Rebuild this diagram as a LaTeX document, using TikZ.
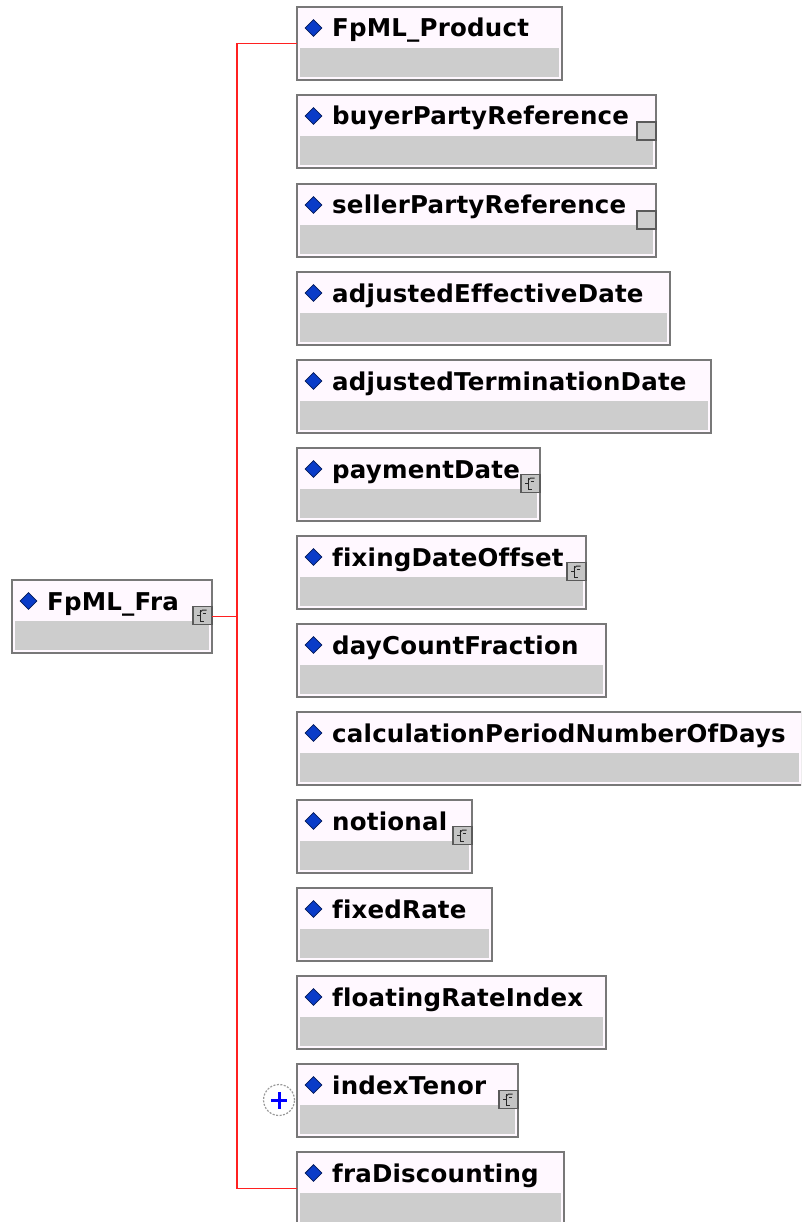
\documentclass[tikz,border=0pt]{standalone}
\usepackage{fontspec}
\newfontfamily\lblfont{DejaVu Sans}[Ligatures={NoCommon}, LetterSpace=0.8]
\usetikzlibrary{shapes.geometric}
\definecolor{boxborder}{HTML}{787878}
\definecolor{boxfill}{HTML}{FFF8FF}
\definecolor{bandgray}{HTML}{CDCDCD}
\definecolor{diablue}{HTML}{0A3CC8}
\definecolor{iconfill}{HTML}{C4C4C4}
\definecolor{iconborder}{HTML}{5A5A5A}
\definecolor{linered}{HTML}{FF2020}
\tikzset{
  x=1pt, y=-1pt,
  elembox/.style={draw=boxborder, fill=boxfill, line width=1.8pt, rectangle, inner sep=0pt, outer sep=0pt, minimum height=73pt, anchor=north west},
  band/.style={fill=bandgray},
  diam/.style={diamond, fill=diablue, draw=diablue!45!black, line width=0.8pt, inner sep=0pt, minimum width=17pt, minimum height=17pt},
  lbl/.style={font=\lblfont\bfseries\fontsize{24.5}{28}\selectfont, inner sep=0pt, anchor=base west, text=black},
  icon/.style={draw=iconborder, fill=iconfill, line width=1.5pt, rectangle, inner sep=0pt, outer sep=0pt, minimum width=19pt, minimum height=18pt},
  glyph/.style={draw=black!85, line width=1pt},
  conn/.style={draw=linered, line width=1.8pt},
  expander/.style={circle, draw=gray!80, dash pattern=on 2pt off 1.5pt, fill=white, minimum size=31pt, inner sep=0pt, line width=1.2pt},
  plussign/.style={draw=blue, line width=3pt},
}
% name, left, top, right, label
\newcommand\elem[5]{%
  \pgfmathsetmacro\elw{#4-#2}%
  \node[elembox, minimum width=\elw pt] (#1) at (#2,#3) {};
  \fill[band] (#2+3,#3+41) rectangle (#4-3,#3+70);
  \node[diam] (#1-d) at (#2+16.5,#3+21) {};
  \node[lbl] (#1-t) at (#2+35,#3+30) {#5};
}
% name, right, top
\newcommand\glyphicon[3]{%
  \node[icon] (#1-i) at (#2-9.5,#3+35.5) {};
  \draw[glyph] (#2-12,#3+30) -- (#2-12,#3+41) -- (#2-8,#3+41);
  \draw[glyph] (#2-15,#3+35) -- (#2-12,#3+35);
  \draw[glyph] (#2-12,#3+32.5) -- (#2-9.5,#3+30) -- (#2-5.5,#3+30);
  \draw[glyph] (#2-9.5,#3+33) -- (#2-6,#3+33);
}
\newcommand\plainicon[3]{%
  \node[icon, fill=iconfill!85!white] (#1-i) at (#2-9.5,#3+36) {};
}
\begin{document}
\begin{tikzpicture}
\fill[white] (0,0) rectangle (801,1222);
\useasboundingbox (0,0) rectangle (801,1222);
\clip (0,0) rectangle (801,1222);

\elem{root}{12}{580}{212}{FpML\_Fra}
\glyphicon{root}{212}{580}

\elem{prod}{297}{7}{562}{FpML\_Product}
\elem{buyer}{297}{95}{656}{buyerPartyReference}
\plainicon{buyer}{656}{95}
\elem{seller}{297}{184}{656}{sellerPartyReference}
\plainicon{seller}{656}{184}
\elem{effd}{297}{272}{670}{adjustedEffectiveDate}
\elem{termd}{297}{360}{711}{adjustedTerminationDate}
\elem{payd}{297}{448}{540}{paymentDate}
\glyphicon{payd}{540}{448}
\elem{fixo}{297}{536}{586}{fixingDateOffset}
\glyphicon{fixo}{586}{536}
\elem{dcf}{297}{624}{606}{dayCountFraction}
\elem{calc}{297}{712}{802}{calculationPeriodNumberOfDays}
\elem{notl}{297}{800}{472}{notional}
\glyphicon{notl}{472}{800}
\elem{fixr}{297}{888}{492}{fixedRate}
\elem{flt}{297}{976}{606}{floatingRateIndex}
\elem{tenor}{297}{1064}{518}{indexTenor}
\glyphicon{tenor}{518}{1064}
\elem{fra}{297}{1152}{564}{fraDiscounting}

\coordinate (bus) at ([xshift=25pt]root.east);
\draw[conn] (prod.west) -| (bus) |- (fra.west);
\draw[conn] (root.east) -- (bus);

\node[expander] (exp) at (279,1100) {};
\draw[plussign] ([xshift=-8pt]exp.center) -- ([xshift=8pt]exp.center);
\draw[plussign] ([yshift=-8.5pt]exp.center) -- ([yshift=8.5pt]exp.center);
\end{tikzpicture}
\end{document}
